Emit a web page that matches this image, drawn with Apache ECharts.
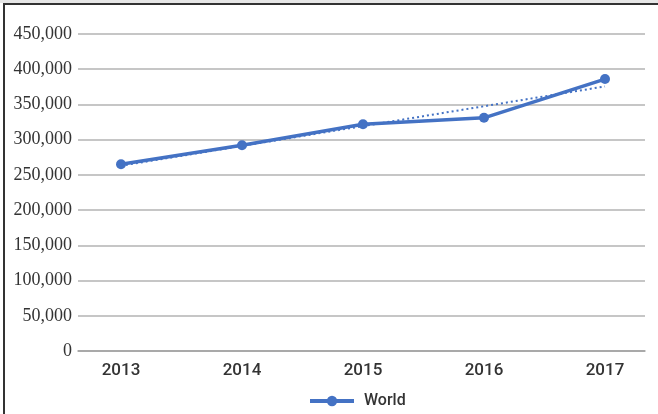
<!DOCTYPE html>
<html>
<head>
<meta charset="utf-8">
<script src="https://cdn.jsdelivr.net/npm/echarts@6/dist/echarts.min.js"></script>
<style>
  html, body { margin: 0; padding: 0; background: #fff; }
  .frame {
    position: relative;
    width: 658px;
    height: 414px;
    background: #fff;
  }
  .frame:before {
    content: '';
    position: absolute;
    left: 0; top: 0; right: 0; height: 3px;
    background: #e6e6e6;
  }
  .edge-top {
    position: absolute;
    left: 3px; top: 3px; right: 0; height: 2px;
    background: #333;
  }
  .edge-left {
    position: absolute;
    left: 3px; top: 3px; bottom: 0; width: 2px;
    background: #333;
  }
  #chart { position: absolute; left: 0; top: 0; width: 658px; height: 414px; }
</style>
</head>
<body>
<div class="frame">
  <div id="chart"></div>
  <div class="edge-top"></div>
  <div class="edge-left"></div>
</div>
<script>
// data
const years = ['2013', '2014', '2015', '2016', '2017']
const world = [265000, 292000, 322000, 331000, 386000]
// dotted linear trend, ends read at 2013 and 2017
const trendIdx = [0, 4]
const trendVal = [263000, 375600]
const yTicks = [0, 50000, 100000, 150000, 200000, 250000, 300000, 350000, 400000, 450000]

const blue = '#4472c4'

const chart = echarts.init(document.getElementById('chart'))
chart.setOption({
  animation: false,
  grid: { left: 78, right: 13, top: 34, bottom: 63 },
  legend: {
    data: ['World'],
    top: 388,
    left: 303,
    itemWidth: 44,
    itemHeight: 13,
    lineStyle: { width: 4 },
    textStyle: {
      fontFamily: 'Roboto', fontWeight: 500, fontSize: 16, color: '#333',
      padding: [0, 0, 0, 5]
    }
  },
  xAxis: {
    type: 'value',
    // category i sits at 121 + 121*i px
    min: -0.3554,
    max: 4.3306,
    axisLine: { show: true, lineStyle: { color: '#a0a0a0', width: 1.5 } },
    axisTick: { show: false },
    splitLine: { show: false },
    axisLabel: {
      customValues: [0, 1, 2, 3, 4],
      formatter: v => years[Math.round(v)],
      margin: 11,
      fontFamily: 'Roboto',
      fontWeight: 500,
      fontSize: 17,
      color: '#333'
    }
  },
  yAxis: {
    type: 'value',
    min: yTicks[0],
    max: yTicks[yTicks.length - 1],
    interval: 50000,
    axisLine: { show: false },
    axisTick: { show: false },
    splitLine: { lineStyle: { color: '#b3b3b3', width: 1.5 } },
    axisLabel: {
      margin: 6,
      fontFamily: 'Liberation Serif',
      fontSize: 18,
      color: '#333',
      formatter: v => v.toLocaleString('en-US')
    }
  },
  series: [{
    name: 'trend',
    type: 'line',
    data: trendIdx.map((x, i) => [x, trendVal[i]]),
    symbol: 'none',
    lineStyle: { color: blue, width: 2, type: [2, 3] },
    z: 1
  }, {
    name: 'World',
    type: 'line',
    data: world.map((v, i) => [i, v]),
    symbol: 'circle',
    symbolSize: 10,
    itemStyle: { color: blue },
    lineStyle: { color: blue, width: 3.5 },
    z: 2
  }]
})
</script>
</body>
</html>
